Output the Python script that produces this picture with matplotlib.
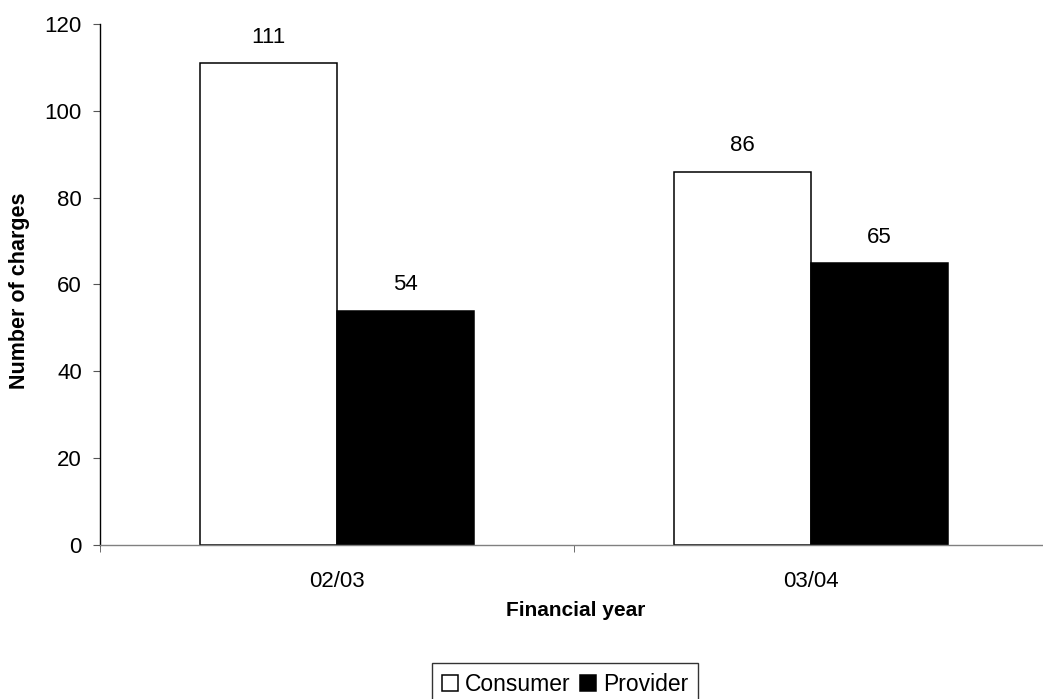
import numpy as np
import matplotlib
matplotlib.use('Agg')
import matplotlib.pyplot as plt

plt.rcParams['font.family'] = ['Liberation Sans', 'DejaVu Sans']

# data
years = ['02/03', '03/04']
consumer = [111, 86]
provider = [54, 65]
series_names = ['Consumer', 'Provider']
y_ticks = [0, 20, 40, 60, 80, 100, 120]

fig = plt.figure(figsize=(10.43, 6.99), dpi=100)
ax = fig.add_axes([100 / 1043, 1 - 545 / 699, 948 / 1043, 521 / 699])

x = np.arange(len(years))
w = 0.289
b1 = ax.bar(x - w / 2, consumer, w, color='white', edgecolor='black', linewidth=1.1, label=series_names[0])
b2 = ax.bar(x + w / 2, provider, w, color='black', edgecolor='black', linewidth=1.1, label=series_names[1])

# value labels above bars
for bars in (b1, b2):
    for r in bars:
        ax.annotate(f'{int(r.get_height())}', xy=(r.get_x() + r.get_width() / 2, r.get_height()),
                    xytext=(0, 11), textcoords='offset points', ha='center', va='bottom', fontsize=16)

ax.set_xlim(-0.5, len(years) - 0.5)
ax.set_ylim(0, 120)
ax.set_yticks(y_ticks)
ax.tick_params(axis='y', labelsize=16, length=5, direction='out', color='#555555', pad=8)

# category labels in the middle, tick marks at the boundaries
ax.set_xticks(x)
ax.set_xticklabels(years)
ax.set_xticks(np.arange(len(years) + 1) - 0.5, minor=True)
ax.tick_params(axis='x', which='major', length=0, labelsize=16, pad=19)
ax.tick_params(axis='x', which='minor', length=5, direction='out', color='#555555')

for s in ['top', 'right']:
    ax.spines[s].set_visible(False)
ax.spines['left'].set_color('black')
ax.spines['left'].set_linewidth(1.0)
ax.spines['bottom'].set_color('#808080')
ax.spines['bottom'].set_linewidth(1.0)

fig.text(576 / 1043, 1 - 610 / 699, 'Financial year', ha='center', va='center',
         fontsize=15, fontweight='bold')
fig.text(20 / 1043, 1 - 291 / 699, 'Number of charges', ha='center', va='center',
         rotation=90, fontsize=15.5, fontweight='bold')

leg = fig.legend(loc='upper center', bbox_to_anchor=(565 / 1043, 1 - 663 / 699), ncol=2,
                 fontsize=16.5, frameon=True, fancybox=False, edgecolor='black',
                 handlelength=0.7, handleheight=0.7, handletextpad=0.3, columnspacing=0.4,
                 borderpad=0.45, borderaxespad=0)
leg.get_frame().set_linewidth(1.0)

fig.savefig('out.png', dpi=100)
